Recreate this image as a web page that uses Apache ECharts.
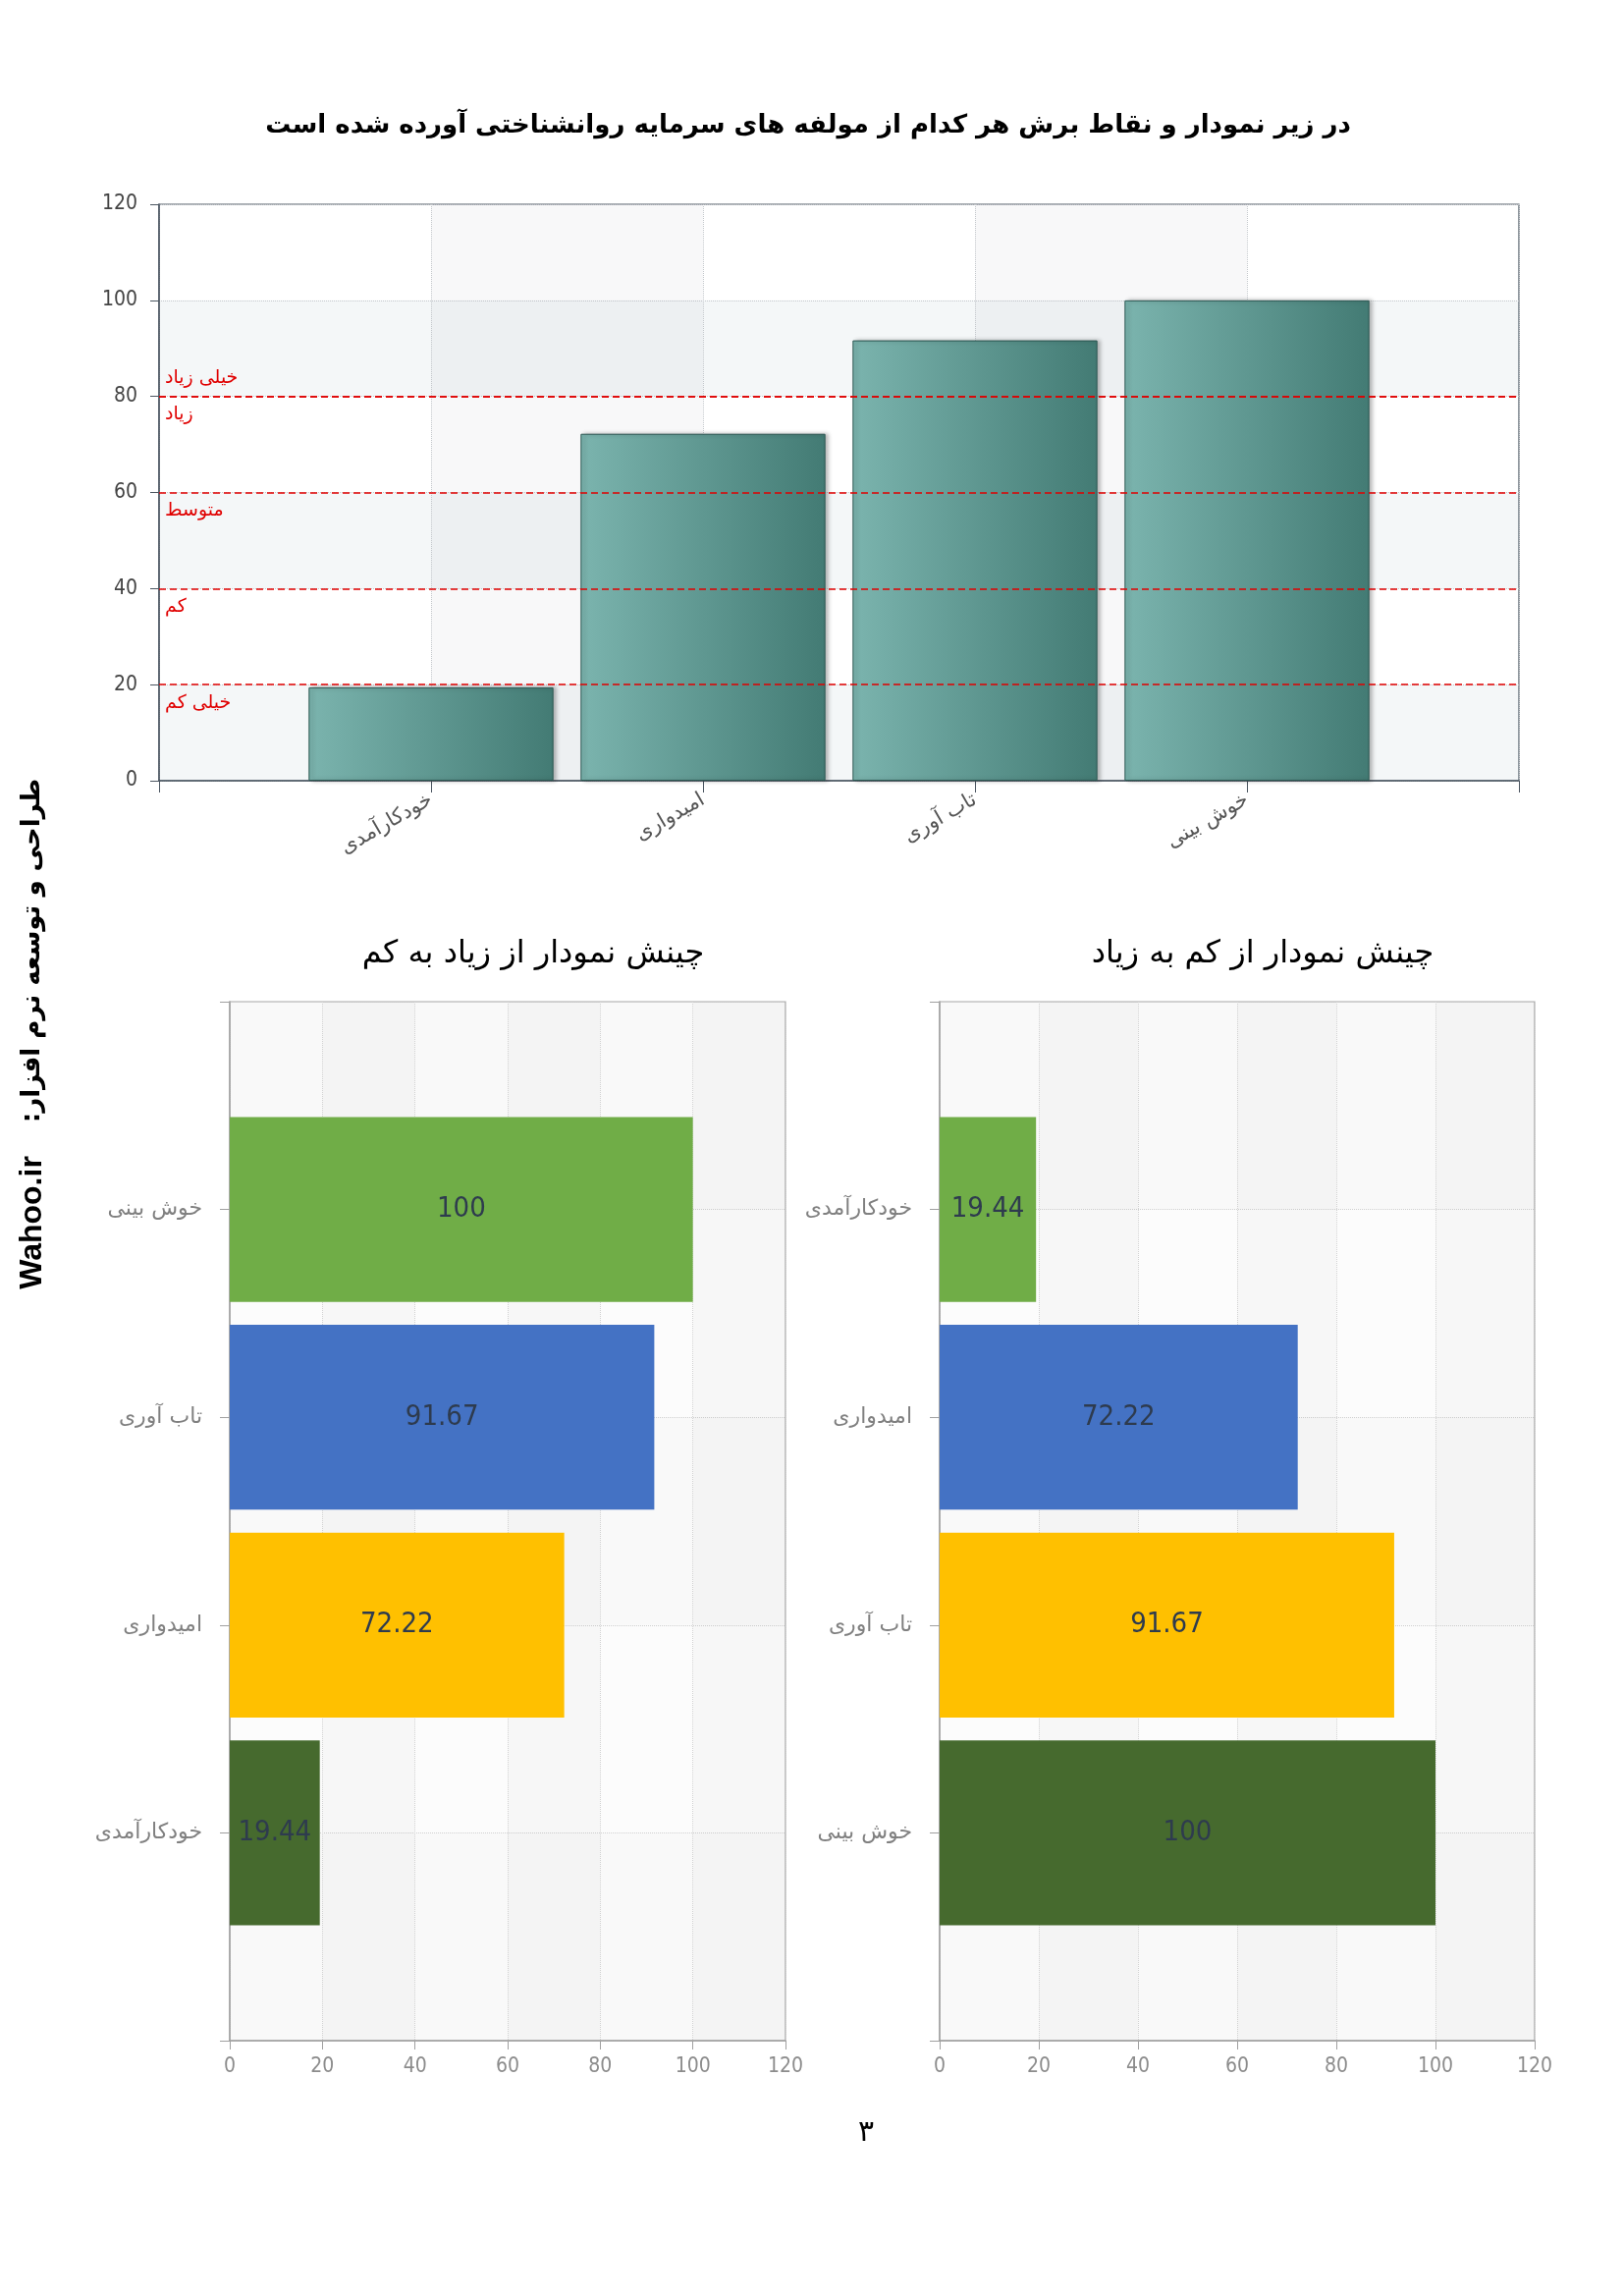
<!DOCTYPE html>
<html>
<head>
<meta charset="utf-8">
<script src="https://cdn.jsdelivr.net/npm/echarts@6/dist/echarts.min.js"></script>
<style>
html,body{margin:0;padding:0;background:#fff;}
#c{width:1654px;height:2338px;}
</style>
</head>
<body>
<div id="c"></div>
<script>
// ---- data ----
const categories = ['خودکارآمدی', 'امیدواری', 'تاب آوری', 'خوش بینی'];
const scores = [19.44, 72.22, 91.67, 100];
const cutValues = [20, 40, 60, 80];
const cutLabelsBelow = ['خیلی کم', 'کم', 'متوسط', 'زیاد'];
const cutLabelTop = 'خیلی زیاد';
const rankColors = ['#466a2e', '#ffc000', '#4472c4', '#70ad47']; // from bottom to top
const mainTitle = 'در زیر نمودار و نقاط برش هر کدام از مولفه های سرمایه روانشناختی آورده شده است';
const titleDesc = 'چینش نمودار از زیاد به کم';
const titleAsc = 'چینش نمودار از کم به زیاد';
const sideText = 'طراحی و توسعه نرم افزار:\u200F';
const sideSite = 'Wahoo.ir';
const pageNumber = '۳';
const valueMax = 120;
const valueStep = 20;

// ---- build ----
const pad = a => [''].concat(a, ['']);
const padV = a => ['-'].concat(a, ['-']);

// descending chart: bottom = smallest, top = largest (y category runs bottom->top)
const idxAsc = scores.map((v, i) => i).sort((a, b) => scores[a] - scores[b]);
const descCats = idxAsc.map(i => categories[i]);
const descVals = idxAsc.map(i => scores[i]);
// ascending chart: top = smallest
const idxDesc = idxAsc.slice().reverse();
const ascCats = idxDesc.map(i => categories[i]);
const ascVals = idxDesc.map(i => scores[i]);

const FA = '"DejaVu Sans", "Noto Sans", sans-serif';
const NARROW = '"DejaVu Sans Condensed", "Liberation Sans Narrow", "Liberation Sans", sans-serif';

const markData = [];
cutValues.forEach((v, i) => {
  markData.push({ yAxis: v, label: { formatter: cutLabelsBelow[i], position: 'insideStartBottom' } });
});
markData.push({ yAxis: cutValues[cutValues.length - 1], label: { formatter: cutLabelTop, position: 'insideStartTop' } });

function hBarSeries(xi, vals) {
  return {
    type: 'bar', xAxisIndex: xi, yAxisIndex: xi,
    data: padV(vals).map((v, i) => v === '-' ? '-' : { value: v, itemStyle: { color: rankColors[i - 1] } }),
    barWidth: '89%',
    label: { show: true, position: 'inside', color: '#2e3b4e', fontSize: 29, fontFamily: NARROW },
    silent: true
  };
}

function valueAxisBottom(gi) {
  return {
    type: 'value', gridIndex: gi, min: 0, max: valueMax, interval: valueStep,
    axisLine: { show: true, lineStyle: { color: '#a0a0a0', width: 1.5 } },
    axisTick: { show: true, length: 9, lineStyle: { color: '#a0a0a0' } },
    axisLabel: { color: '#8c8c8c', fontSize: 21, fontFamily: NARROW, margin: 16 },
    splitLine: { show: true, lineStyle: { color: '#d2d2d2', type: 'dotted' } },
    splitArea: { show: true, areaStyle: { color: ['rgba(0,0,0,0.012)', 'rgba(0,0,0,0.03)'] } }
  };
}
function catAxisBottom(gi, cats) {
  return {
    type: 'category', gridIndex: gi, data: pad(cats), boundaryGap: false,
    axisLine: { show: true, lineStyle: { color: '#a0a0a0', width: 1.5 } },
    axisTick: { show: true, length: 10, lineStyle: { color: '#a0a0a0' } },
    axisLabel: { color: '#808080', fontSize: 22, fontFamily: FA, margin: 28 },
    splitLine: { show: true, lineStyle: { color: '#d2d2d2', type: 'dotted' } },
    splitArea: { show: true, areaStyle: { color: ['rgba(0,0,0,0.01)', 'rgba(0,0,0,0)'] } }
  };
}

const option = {
  backgroundColor: '#ffffff',
  animation: false,
  grid: [
    { left: 162, top: 208, width: 1385, height: 587, show: true, borderColor: '#4a5560', borderWidth: 1.2, backgroundColor: 'transparent' },
    { left: 234, top: 1020, width: 566, height: 1058, show: true, borderColor: '#aaaaaa', borderWidth: 1.2 },
    { left: 957, top: 1020, width: 606, height: 1058, show: true, borderColor: '#aaaaaa', borderWidth: 1.2 }
  ],
  xAxis: [
    {
      type: 'category', gridIndex: 0, data: pad(categories), boundaryGap: false,
      axisLine: { show: true, lineStyle: { color: '#4a5560', width: 1.5 } },
      axisTick: { show: true, length: 12, lineStyle: { color: '#4a5560' } },
      axisLabel: { color: '#555', fontSize: 21, fontFamily: FA, rotate: 30, margin: 18 },
      splitLine: { show: true, lineStyle: { color: '#c4c8cc', type: 'dotted' } },
      splitArea: { show: true, areaStyle: { color: ['rgba(0,0,0,0)', 'rgba(110,120,130,0.05)'] } }
    },
    valueAxisBottom(1),
    valueAxisBottom(2)
  ],
  yAxis: [
    {
      type: 'value', gridIndex: 0, min: 0, max: valueMax, interval: valueStep,
      axisLine: { show: true, lineStyle: { color: '#4a5560', width: 1.5 } },
      axisTick: { show: true, length: 9, lineStyle: { color: '#4a5560' } },
      axisLabel: { color: '#444', fontSize: 21, fontFamily: NARROW, margin: 22 },
      splitLine: { show: true, lineStyle: { color: '#c4c8cc', type: 'dotted' } },
      splitArea: { show: true, areaStyle: { color: ['rgba(150,175,185,0.1)', 'rgba(0,0,0,0)'] } }
    },
    catAxisBottom(1, descCats),
    catAxisBottom(2, ascCats)
  ],
  series: [
    {
      type: 'bar', xAxisIndex: 0, yAxisIndex: 0,
      data: padV(scores),
      barWidth: '90%',
      itemStyle: {
        color: new echarts.graphic.LinearGradient(0, 0, 1, 0, [
          { offset: 0, color: '#7bb4ae' },
          { offset: 1, color: '#437b74' }
        ]),
        borderColor: '#2b5752', borderWidth: 1,
        shadowColor: 'rgba(0,0,0,0.28)', shadowBlur: 4, shadowOffsetX: 3, shadowOffsetY: 0
      },
      markLine: {
        silent: true, symbol: 'none', animation: false,
        lineStyle: { color: '#e00000', type: [7, 4], width: 1.6 },
        label: { color: '#e00000', fontSize: 19, fontFamily: FA, distance: [6, 9] },
        data: markData
      }
    },
    hBarSeries(1, descVals),
    hBarSeries(2, ascVals)
  ],
  graphic: [
    { type: 'text', x: 823, y: 128, style: { text: mainTitle, font: 'bold 26px ' + FA, fill: '#000', textAlign: 'center', textVerticalAlign: 'middle' } },
    { type: 'text', x: 543, y: 972, style: { text: titleDesc, font: '32px ' + FA, fill: '#000', textAlign: 'center', textVerticalAlign: 'middle' } },
    { type: 'text', x: 1286, y: 972, style: { text: titleAsc, font: '32px ' + FA, fill: '#000', textAlign: 'center', textVerticalAlign: 'middle' } },
    { type: 'text', x: 33, y: 968, rotation: Math.PI / 2, style: { text: sideText, font: 'bold 26px ' + FA, fill: '#000', textAlign: 'center', textVerticalAlign: 'middle' } },
    { type: 'text', x: 33, y: 1245, rotation: Math.PI / 2, style: { text: sideSite, font: 'bold 32px "Liberation Sans", Arial, sans-serif', fill: '#000', textAlign: 'center', textVerticalAlign: 'middle' } },
    { type: 'text', x: 882, y: 2172, style: { text: pageNumber, font: '30px ' + FA, fill: '#000', textAlign: 'center', textVerticalAlign: 'middle' } }
  ]
};

const chart = echarts.init(document.getElementById('c'), null, { renderer: 'canvas' });
chart.setOption(option);
</script>
</body>
</html>
